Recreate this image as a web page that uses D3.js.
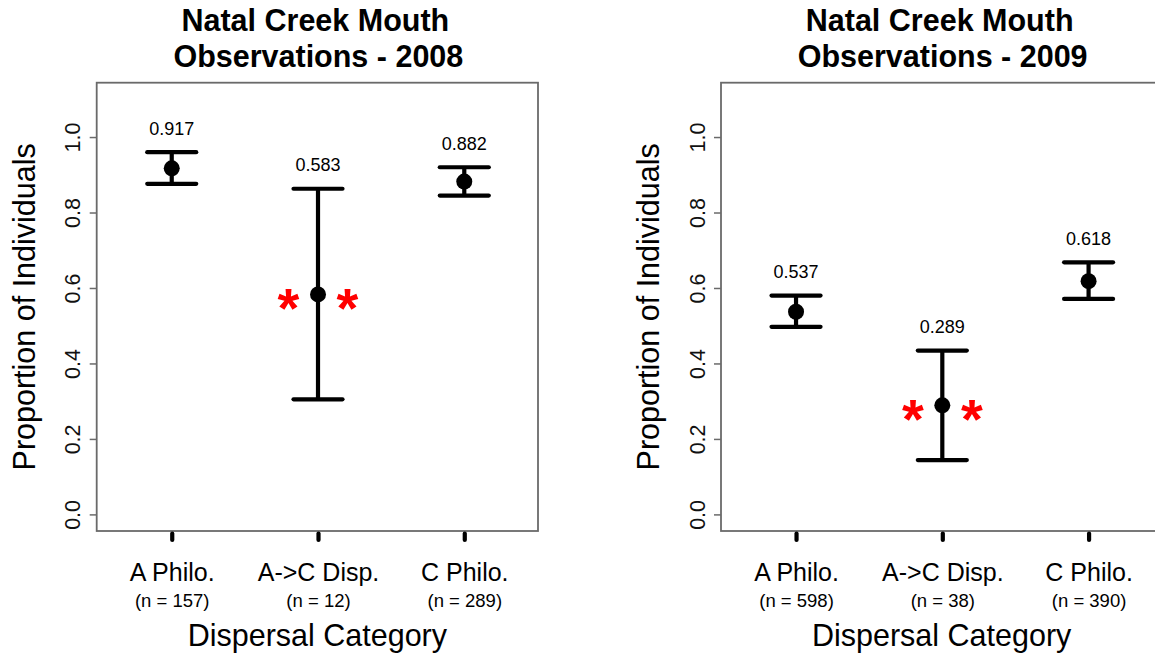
<!DOCTYPE html>
<html>
<head>
<meta charset="utf-8">
<script src="https://cdn.jsdelivr.net/npm/d3@7"></script>
<style>
  html, body { margin: 0; padding: 0; background: #ffffff; }
  svg { display: block; font-family: "Liberation Sans", Arial, sans-serif; }
</style>
</head>
<body>
<svg id="chart" width="1155" height="657"></svg>
<script>
// ---------------- data ----------------
const categories = ["A Philo.", "A->C Disp.", "C Philo."];
const yTicks = [0.0, 0.2, 0.4, 0.6, 0.8, 1.0];

const titles2008 = ["Natal Creek Mouth", "Observations - 2008"];
const n2008 = [157, 12, 289];
const prop2008 = [0.917, 0.583, 0.882];
const lower2008 = [0.876, 0.305, 0.845];
const upper2008 = [0.960, 0.863, 0.920];
const signif2008 = [false, true, false];

const titles2009 = ["Natal Creek Mouth", "Observations - 2009"];
const n2009 = [598, 38, 390];
const prop2009 = [0.537, 0.289, 0.618];
const lower2009 = [0.497, 0.144, 0.571];
const upper2009 = [0.580, 0.434, 0.668];
const signif2009 = [false, true, false];

const yTitle = "Proportion of Individuals";
const xTitle = "Dispersal Category";

// ---------------- layout ----------------
const svg = d3.select("#chart");
const boxTop = 82.7, boxBottom = 531, boxWidth = 441.3;
const y = d3.scaleLinear().domain([-0.044, 1.144]).range([boxBottom, boxTop]);
const x = d3.scaleLinear().domain([0.487, 3.504]).range([0, boxWidth]);

function panel(left, titles, n, prop, lower, upper, signif) {
  const g = svg.append("g").attr("transform", `translate(${left},0)`);
  const cx = boxWidth / 2;

  // titles
  g.append("text").attr("x", cx - 2).attr("y", 31)
    .attr("text-anchor", "middle").attr("font-weight", "bold")
    .attr("font-size", 30.5).attr("fill", "#000").text(titles[0]);
  g.append("text").attr("x", cx + 1).attr("y", 66.5)
    .attr("text-anchor", "middle").attr("font-weight", "bold")
    .attr("font-size", 30.5).attr("fill", "#000").text(titles[1]);

  // box
  g.append("rect").attr("x", 0).attr("y", boxTop)
    .attr("width", boxWidth).attr("height", boxBottom - boxTop)
    .attr("fill", "none").attr("stroke", "#6a6a6a").attr("stroke-width", 1.8);

  // y axis
  const ya = g.append("g").call(d3.axisLeft(y).tickValues(yTicks)
      .tickSize(7).tickFormat(d3.format(".1f")));
  ya.select(".domain").remove();
  ya.selectAll(".tick line").attr("stroke", "#6a6a6a").attr("stroke-width", 1.5);
  ya.selectAll(".tick text")
    .attr("x", null).attr("dy", null).attr("y", null)
    .attr("transform", "translate(-16.5,0) rotate(-90)")
    .attr("text-anchor", "middle")
    .attr("font-size", 21.5).attr("fill", "#111")
    .attr("font-family", "Liberation Sans, Arial, sans-serif");

  // x axis
  const xa = g.append("g").attr("transform", `translate(0,${boxBottom})`)
    .call(d3.axisBottom(x).tickValues([1, 2, 3]).tickSize(0)
      .tickFormat((d, i) => categories[i]));
  xa.select(".domain").remove();
  xa.selectAll(".tick line").remove();
  xa.selectAll(".tick").append("line")
    .attr("x1", 0).attr("x2", 0).attr("y1", 2.5).attr("y2", 9)
    .attr("stroke", "#000").attr("stroke-width", 4.2).attr("stroke-linecap", "round");
  xa.selectAll(".tick text")
    .attr("y", 50).attr("dy", null)
    .attr("font-size", 25).attr("fill", "#000")
    .attr("font-family", "Liberation Sans, Arial, sans-serif");
  xa.selectAll(".tick").append("text")
    .attr("y", 75.5).attr("text-anchor", "middle")
    .attr("font-size", 18.5).attr("fill", "#000")
    .text((d, i) => `(n = ${n[i]})`);

  // axis titles
  g.append("text")
    .attr("transform", `translate(-62,${(boxTop + boxBottom) / 2}) rotate(-90)`)
    .attr("text-anchor", "middle").attr("font-size", 30.5).attr("fill", "#000")
    .text(yTitle);
  g.append("text").attr("x", cx).attr("y", 645.5)
    .attr("text-anchor", "middle").attr("font-size", 30.5).attr("fill", "#000")
    .text(xTitle);

  // error bars
  const rows = categories.map((c, i) => ({ i, p: prop[i], lo: lower[i], hi: upper[i], s: signif[i] }));
  const capW = 24.5;
  const eb = g.append("g");
  eb.selectAll("line.v").data(rows).join("line").attr("class", "v")
    .attr("x1", d => x(d.i + 1)).attr("x2", d => x(d.i + 1))
    .attr("y1", d => y(d.hi)).attr("y2", d => y(d.lo))
    .attr("stroke", "#000").attr("stroke-width", 4.2);
  eb.selectAll("line.hi").data(rows).join("line").attr("class", "hi")
    .attr("x1", d => x(d.i + 1) - capW).attr("x2", d => x(d.i + 1) + capW)
    .attr("y1", d => y(d.hi)).attr("y2", d => y(d.hi))
    .attr("stroke", "#000").attr("stroke-width", 4.2).attr("stroke-linecap", "round");
  eb.selectAll("line.lo").data(rows).join("line").attr("class", "lo")
    .attr("x1", d => x(d.i + 1) - capW).attr("x2", d => x(d.i + 1) + capW)
    .attr("y1", d => y(d.lo)).attr("y2", d => y(d.lo))
    .attr("stroke", "#000").attr("stroke-width", 4.2).attr("stroke-linecap", "round");
  eb.selectAll("circle").data(rows).join("circle")
    .attr("cx", d => x(d.i + 1)).attr("cy", d => y(d.p)).attr("r", 8)
    .attr("fill", "#000");
  eb.selectAll("text.val").data(rows).join("text").attr("class", "val")
    .attr("x", d => x(d.i + 1)).attr("y", d => y(d.hi) - 17.5)
    .attr("text-anchor", "middle").attr("font-size", 18).attr("fill", "#000")
    .text(d => d3.format(".3f")(d.p));

  // significance asterisks
  const sig = rows.filter(d => d.s);
  const astSize = 56;
  [-29.5, 29.5].forEach(off => {
    eb.selectAll(null).data(sig).join("text")
      .attr("x", d => x(d.i + 1) + off)
      .attr("y", d => y(d.p) + astSize * 0.58)
      .attr("text-anchor", "middle").attr("font-weight", "bold")
      .attr("font-size", astSize).attr("fill", "#ff0000")
      .text("*");
  });
}

panel(96.7, titles2008, n2008, prop2008, lower2008, upper2008, signif2008);
panel(721, titles2009, n2009, prop2009, lower2009, upper2009, signif2009);
</script>
</body>
</html>
